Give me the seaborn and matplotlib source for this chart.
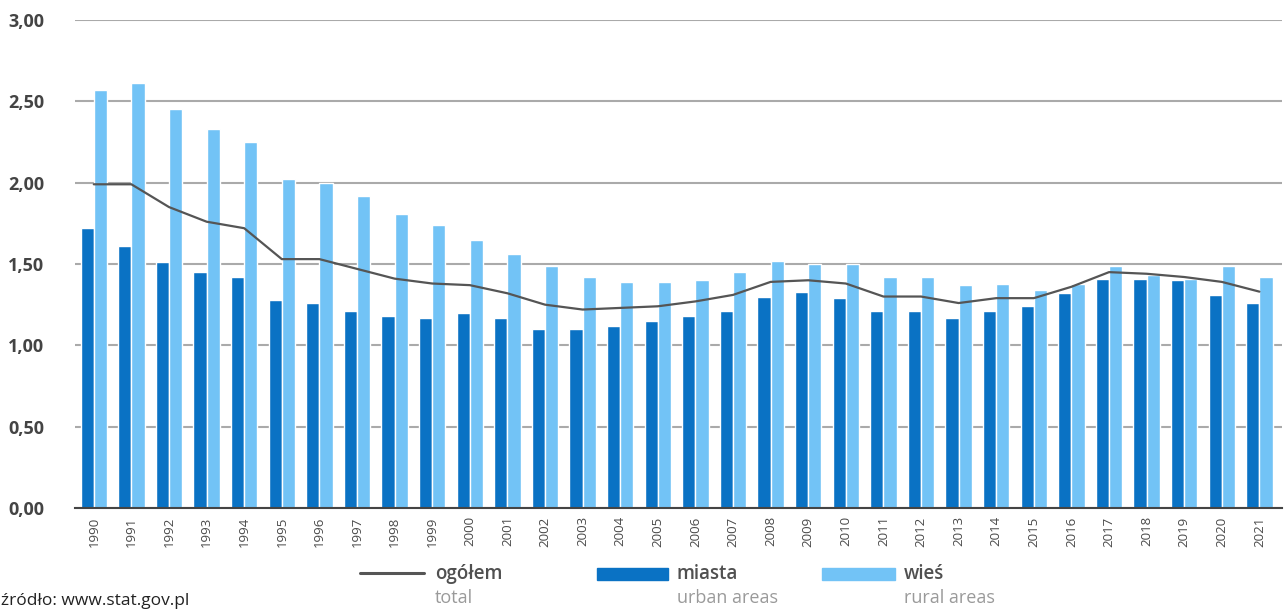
import numpy as np
import pandas as pd
import matplotlib
matplotlib.use('Agg')
import matplotlib.pyplot as plt
from matplotlib.lines import Line2D
from matplotlib.patches import Rectangle
import seaborn as sns

years = [str(y) for y in range(1990, 2022)]
miasta = [1.72, 1.61, 1.51, 1.45, 1.42, 1.28, 1.26, 1.21, 1.18, 1.17, 1.20, 1.17, 1.10, 1.10, 1.12, 1.15,
          1.18, 1.21, 1.30, 1.33, 1.29, 1.21, 1.21, 1.17, 1.21, 1.24, 1.32, 1.41, 1.41, 1.40, 1.31, 1.26]
wies = [2.57, 2.61, 2.45, 2.33, 2.25, 2.02, 2.00, 1.92, 1.81, 1.74, 1.65, 1.56, 1.49, 1.42, 1.39, 1.39,
        1.40, 1.45, 1.52, 1.50, 1.50, 1.42, 1.42, 1.37, 1.38, 1.34, 1.38, 1.49, 1.43, 1.41, 1.49, 1.42]
ogolem = [1.99, 1.99, 1.85, 1.76, 1.72, 1.53, 1.53, 1.47, 1.41, 1.38, 1.37, 1.32, 1.25, 1.22, 1.23, 1.24,
          1.27, 1.31, 1.39, 1.40, 1.38, 1.30, 1.30, 1.26, 1.29, 1.29, 1.36, 1.45, 1.44, 1.42, 1.39, 1.33]

c_urban = '#0a72c4'
c_rural = '#72c3f6'
c_line = '#555555'

df = pd.DataFrame({'rok': years * 2,
                   'wartosc': miasta + wies,
                   'typ': ['miasta'] * len(years) + ['wieś'] * len(years)})

sns.set_theme(style='white')
plt.rcParams['font.family'] = ['Open Sans', 'DejaVu Sans']

W, H = 1287, 610
fig = plt.figure(figsize=(W / 100, H / 100), dpi=100)
ax = fig.add_axes([75 / W, 1 - 508 / H, (1282 - 75) / W, 488 / H])

sns.barplot(data=df, x='rok', y='wartosc', hue='typ', hue_order=['miasta', 'wieś'],
            palette=[c_urban, c_rural], width=0.7, gap=0, saturation=1, legend=False, ax=ax, zorder=3)
sns.lineplot(x=np.arange(len(years)), y=ogolem, color=c_line, linewidth=1.6, ax=ax, zorder=4)

ax.set_xlim(-0.5, 31.6)
ax.set_ylim(0, 3)
ax.set_yticks(np.arange(0, 3.01, 0.5))
ax.set_yticklabels([f'{v:.2f}'.replace('.', ',') for v in np.arange(0, 3.01, 0.5)],
                   fontsize=13, fontweight='bold', color='#444444')
ax.set_xticks(range(len(years)))
ax.set_xticklabels(years, rotation=90, fontsize=9.5, color='#4a4a4a')
ax.set_xticks(np.arange(-0.5, len(years), 1), minor=True)
ax.tick_params(axis='x', which='major', length=0, pad=6)
ax.tick_params(axis='x', which='minor', length=4, width=1.2, color='#444444', direction='out')
ax.tick_params(axis='y', length=0, pad=22)
ax.set_xlabel('')
ax.set_ylabel('')
ax.yaxis.grid(True, color='#aaaaaa', linewidth=1.5, zorder=0)
ax.set_axisbelow(True)
for s in ['top', 'right', 'left']:
    ax.spines[s].set_visible(False)
ax.spines['bottom'].set_color('#444444')
ax.spines['bottom'].set_linewidth(1.5)
ax.spines['bottom'].set_zorder(5)

# legend
def fx(px):
    return px / W

def fy(py):
    return 1 - py / H

fig.add_artist(Line2D([fx(360), fx(424)], [fy(573), fy(573)], color=c_line, linewidth=2.2))
fig.add_artist(Rectangle((fx(597), fy(580)), fx(71), 12 / H, color=c_urban))
fig.add_artist(Rectangle((fx(822), fy(580)), fx(73), 12 / H, color=c_rural))
for x0, top, bottom in [(435, 'ogółem', 'total'), (677, 'miasta', 'urban areas'), (904, 'wieś', 'rural areas')]:
    fig.text(fx(x0), fy(574), top, fontsize=13.5, fontweight='semibold', color='#505050', va='center', ha='left')
    fig.text(fx(x0), fy(598), bottom, fontsize=13, color='#9a9a9a', va='center', ha='left')

fig.text(fx(1), fy(605), 'źródło: www.stat.gov.pl', fontsize=12.5, color='#222222', va='baseline', ha='left')

fig.savefig('out.png', dpi=100)
